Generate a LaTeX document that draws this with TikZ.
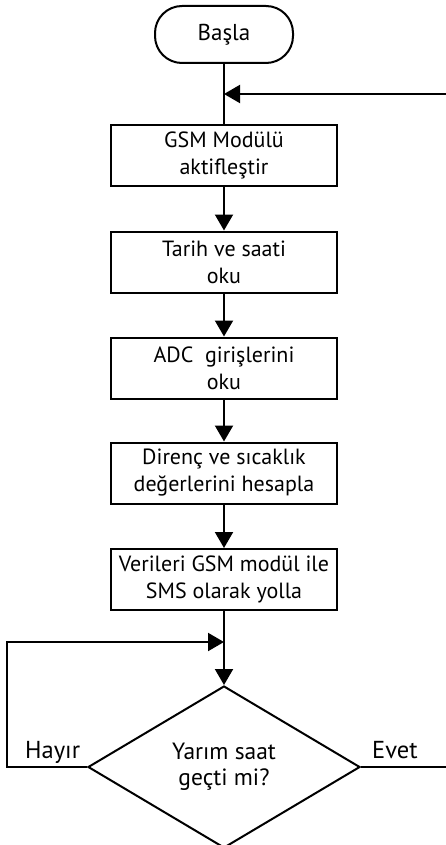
\documentclass[tikz,border=0pt]{standalone}
\usepackage{fontspec}
\setmainfont{PT Sans}
\usetikzlibrary{arrows.meta,shapes.geometric}
\begin{document}
\begin{tikzpicture}[x=1pt,y=-1pt,
  line/.style={line width=2pt},
  arr/.style={line width=2pt,-{Triangle[length=16pt,width=18pt]}},
  proc/.style={draw,line width=2pt,minimum width=226pt,minimum height=61pt,inner sep=0pt,align=center,font=\fontsize{22}{27}\selectfont},
  term/.style={draw,line width=2pt,rounded corners=27pt,minimum width=138pt,minimum height=57pt,inner sep=0pt,font=\fontsize{23}{27}\selectfont},
  dec/.style={draw,diamond,line width=2pt,aspect=1.68,minimum width=272pt,minimum height=162pt,inner sep=0pt,align=center,font=\fontsize{23.5}{26}\selectfont},
  lbl/.style={anchor=base west,inner sep=0pt,font=\fontsize{24.5}{26}\selectfont}]
\useasboundingbox (0,0) rectangle (446,845);
\clip (0,0) rectangle (446,845);
\node[term] (start) at (224,34.5) {Başla};
\node[proc] (b1) at (224,155.5) {GSM Modülü\\aktifleştir};
\node[proc] (b2) at (224,262) {Tarih ve saati\\oku};
\node[proc] (b3) at (224,368) {ADC\ \ girişlerini\\oku};
\node[proc] (b4) at (224,473) {Direnç ve sıcaklık\\değerlerini hesapla};
\node[proc] (b5) at (224,579.5) {Verileri GSM modül ile\\SMS olarak yolla};
\node[dec] (dec) at (224,767) {Yarım saat\\geçti mi?};
\coordinate (tr) at (446,94);
\coordinate (m1) at (224,94);
\coordinate (fb) at (224,642);
\coordinate (hl) at (7,767);
\coordinate (ht) at (7,642);
\coordinate (er) at (446,767);
\draw[line] (start.south) -- (b1.north);
\draw[arr] (tr) -- (m1);
\draw[arr] (b1.south) -- (b2.north);
\draw[arr] (b2.south) -- (b3.north);
\draw[arr] (b3.south) -- (b4.north);
\draw[arr] (b4.south) -- (b5.north);
\draw[arr] (b5.south) -- (dec.north);
\draw[arr] (dec.west) -- (hl) -- (ht) -- (fb);
\draw[line] (dec.east) -- (er);
\node[lbl] (hayir) at (25,758) {Hayır};
\node[lbl] (evet) at (372,758) {Evet};
\end{tikzpicture}
\end{document}
